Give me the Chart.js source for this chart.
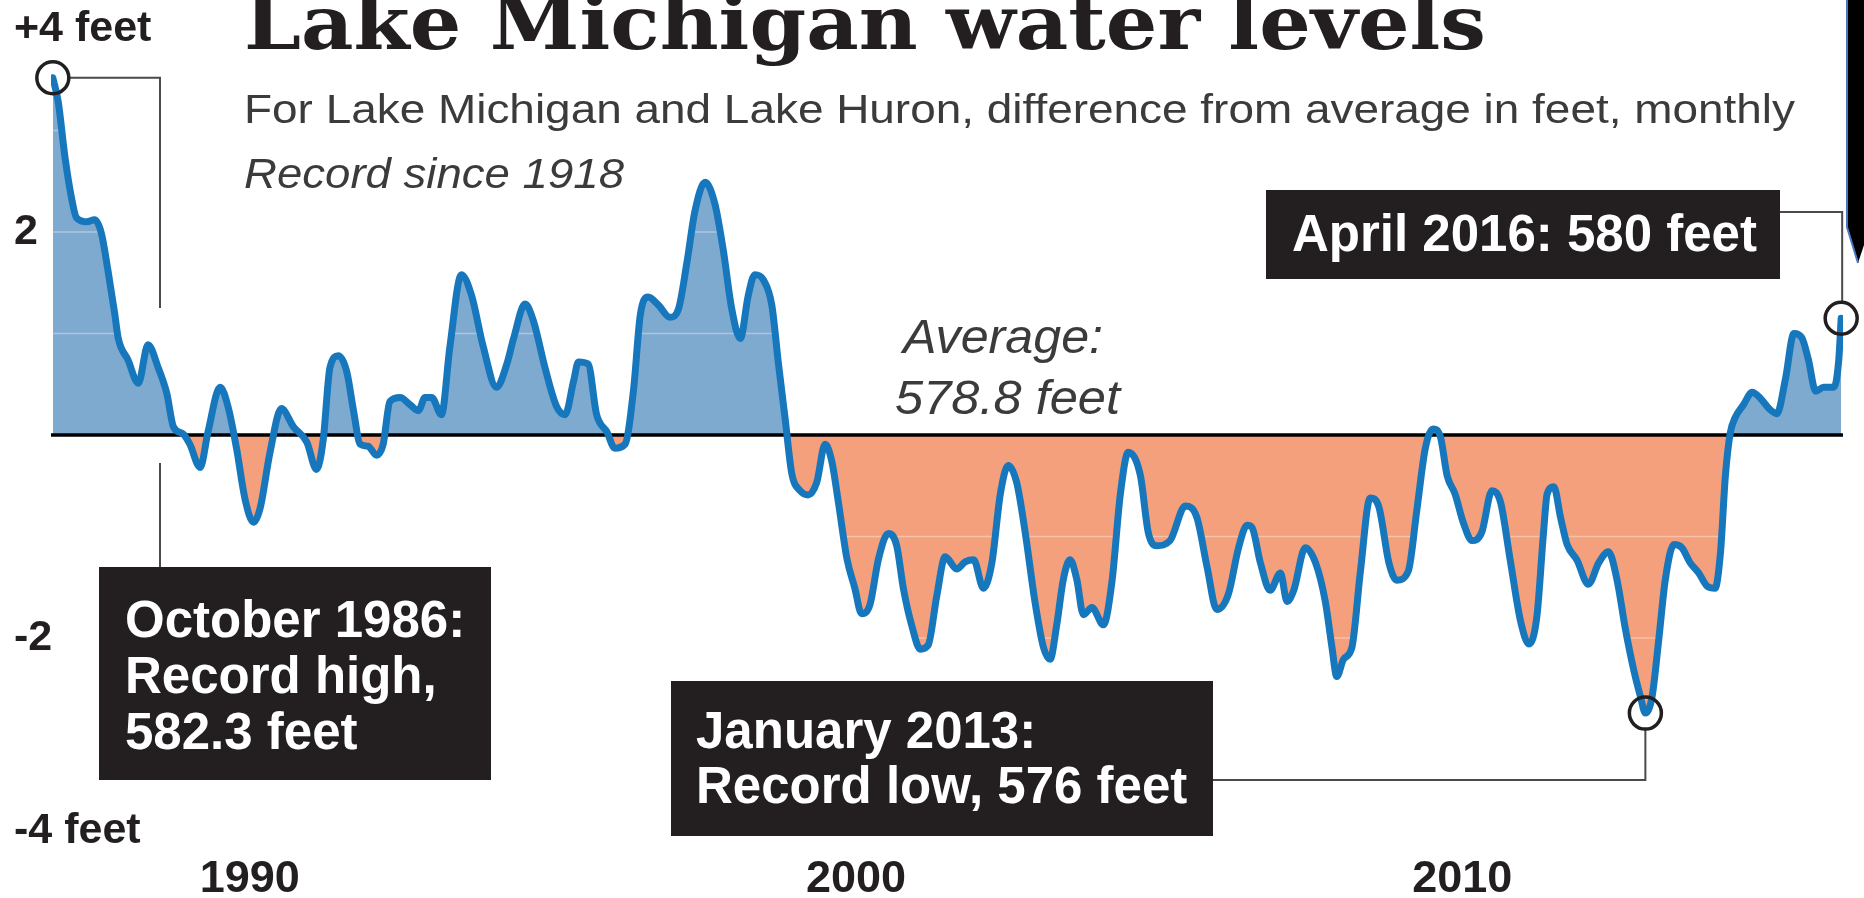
<!DOCTYPE html>
<html>
<head>
<meta charset="utf-8">
<title>Lake Michigan water levels</title>
<script src="https://cdn.jsdelivr.net/npm/chart.js@4.4.1/dist/chart.umd.min.js"></script>
<style>
  html, body { margin: 0; padding: 0; background: #fff; }
  #wrap { width: 1864px; height: 898px; position: relative; }
</style>
</head>
<body>
<div id="wrap"><canvas id="levelsChart" width="1864" height="898"></canvas></div>
<script>
// Lake Michigan-Huron level, difference from the 578.8 ft average, in feet
const dates = [
  1986.75, 1986.84, 1986.95, 1987.06, 1987.14, 1987.31, 1987.44, 1987.55, 1987.66, 1987.77,
  1987.83, 1987.99, 1988.16, 1988.32, 1988.49, 1988.63, 1988.74, 1988.90, 1989.01, 1989.18,
  1989.31, 1989.51, 1989.64, 1989.78, 1989.92, 1990.06, 1990.17, 1990.33, 1990.52, 1990.72,
  1990.94, 1991.10, 1991.21, 1991.32, 1991.46, 1991.60, 1991.71, 1991.82, 1991.95, 1992.09,
  1992.20, 1992.31, 1992.48, 1992.64, 1992.78, 1992.89, 1993.00, 1993.16, 1993.30, 1993.49,
  1993.66, 1993.85, 1994.07, 1994.24, 1994.35, 1994.54, 1994.68, 1994.87, 1995.06, 1995.20,
  1995.34, 1995.42, 1995.58, 1995.72, 1995.89, 1996.02, 1996.19, 1996.33, 1996.44, 1996.57,
  1996.74, 1996.93, 1997.07, 1997.21, 1997.34, 1997.51, 1997.67, 1997.81, 1997.95, 1998.09,
  1998.22, 1998.33, 1998.47, 1998.61, 1998.72, 1998.83, 1998.94, 1999.08, 1999.21, 1999.35,
  1999.49, 1999.60, 1999.71, 1999.85, 1999.98, 2000.09, 2000.23, 2000.37, 2000.53, 2000.67,
  2000.78, 2000.92, 2001.06, 2001.19, 2001.33, 2001.47, 2001.66, 2001.80, 2001.94, 2002.10,
  2002.24, 2002.38, 2002.51, 2002.65, 2002.79, 2002.95, 2003.09, 2003.20, 2003.31, 2003.42,
  2003.53, 2003.64, 2003.75, 2003.89, 2004.08, 2004.22, 2004.36, 2004.49, 2004.69, 2004.82,
  2004.96, 2005.18, 2005.43, 2005.62, 2005.79, 2005.95, 2006.14, 2006.31, 2006.45, 2006.53,
  2006.67, 2006.83, 2007.00, 2007.11, 2007.22, 2007.41, 2007.58, 2007.74, 2007.85, 2007.93,
  2008.04, 2008.18, 2008.32, 2008.48, 2008.62, 2008.79, 2008.92, 2009.11, 2009.25, 2009.39,
  2009.52, 2009.64, 2009.75, 2009.88, 2010.02, 2010.16, 2010.32, 2010.49, 2010.63, 2010.79,
  2010.96, 2011.10, 2011.23, 2011.34, 2011.40, 2011.51, 2011.62, 2011.73, 2011.89, 2012.08,
  2012.25, 2012.41, 2012.55, 2012.69, 2012.83, 2012.94, 2013.02, 2013.13, 2013.24, 2013.35,
  2013.49, 2013.62, 2013.76, 2013.90, 2014.04, 2014.17, 2014.26, 2014.34, 2014.42, 2014.50,
  2014.64, 2014.78, 2014.92, 2015.06, 2015.19, 2015.33, 2015.47, 2015.60, 2015.71, 2015.83,
  2015.96, 2016.13, 2016.21, 2016.25
];
const levels = [
  3.52, 3.28, 2.74, 2.33, 2.14, 2.10, 2.12, 1.99, 1.62, 1.20,
  0.95, 0.74, 0.51, 0.89, 0.66, 0.41, 0.08, 0.01, -0.09, -0.32,
  0.03, 0.47, 0.28, -0.13, -0.63, -0.86, -0.72, -0.18, 0.26, 0.08,
  -0.07, -0.34, -0.05, 0.66, 0.78, 0.62, 0.24, -0.09, -0.11, -0.20,
  -0.09, 0.33, 0.37, 0.30, 0.24, 0.37, 0.37, 0.20, 0.87, 1.58,
  1.37, 0.87, 0.47, 0.70, 0.95, 1.29, 1.12, 0.66, 0.28, 0.20,
  0.53, 0.72, 0.70, 0.20, 0.03, -0.13, -0.09, 0.45, 1.18, 1.36,
  1.28, 1.16, 1.24, 1.70, 2.20, 2.49, 2.28, 1.82, 1.24, 0.95,
  1.37, 1.58, 1.53, 1.28, 0.70, 0.16, -0.38, -0.55, -0.59, -0.47,
  -0.09, -0.26, -0.67, -1.22, -1.51, -1.76, -1.67, -1.22, -0.97, -1.09,
  -1.51, -1.88, -2.11, -2.07, -1.59, -1.20, -1.32, -1.25, -1.23, -1.51,
  -1.26, -0.58, -0.30, -0.47, -0.96, -1.64, -2.09, -2.21, -1.87, -1.42,
  -1.23, -1.42, -1.77, -1.70, -1.87, -1.45, -0.58, -0.17, -0.40, -0.96,
  -1.09, -1.04, -0.70, -0.81, -1.30, -1.72, -1.57, -1.11, -0.89, -0.91,
  -1.26, -1.53, -1.36, -1.64, -1.53, -1.11, -1.26, -1.64, -2.09, -2.38,
  -2.21, -2.09, -1.34, -0.62, -0.70, -1.26, -1.43, -1.34, -0.74, -0.13,
  0.06, -0.02, -0.40, -0.58, -0.87, -1.04, -0.96, -0.55, -0.66, -1.23,
  -1.83, -2.06, -1.79, -0.96, -0.58, -0.51, -0.81, -1.08, -1.23, -1.47,
  -1.26, -1.15, -1.42, -1.91, -2.32, -2.58, -2.74, -2.58, -2.02, -1.42,
  -1.08, -1.11, -1.26, -1.36, -1.49, -1.51, -1.15, -0.40, 0.02, 0.17,
  0.30, 0.42, 0.36, 0.26, 0.21, 0.55, 1.00, 0.96, 0.74, 0.43,
  0.47, 0.47, 0.74, 1.15
];

const yearTicks = [1990, 2000, 2010];
const feetTicks = [4, 2, -2, -4];
const feetLabels = ['+4 feet', '2', '-2', '-4 feet'];
const gridFeet = [3, 2, 1, -1, -2, -3];

const title = 'Lake Michigan water levels';
const subtitle = 'For Lake Michigan and Lake Huron, difference from average in feet, monthly';
const note = 'Record since 1918';
const averageLines = ['Average:', '578.8 feet'];
const highLines = ['October 1986:', 'Record high,', '582.3 feet'];
const lowLines = ['January 2013:', 'Record low, 576 feet'];
const lastLines = ['April 2016: 580 feet'];

const colors = {
  line: '#1677bd',
  above: '#7faad0',
  below: '#f5a07c',
  ink: '#231f20',
  grey: '#3b3b3b',
  leader: '#4a4a4a'
};
const sans = '"Liberation Sans", Arial, Helvetica, sans-serif';

// text stretched to a given width
function fitText(ctx, text, x, y, width, font) {
  ctx.font = font;
  const w = ctx.measureText(text).width;
  ctx.save();
  ctx.translate(x, y);
  ctx.scale(width / w, 1);
  ctx.fillText(text, 0, 0);
  ctx.restore();
}

function drawBox(ctx, x, y, w, h, lines, tx, baselines) {
  ctx.fillStyle = colors.ink;
  ctx.fillRect(x, y, w, h);
  ctx.fillStyle = '#fff';
  ctx.font = `bold 51px ${sans}`;
  lines.forEach((t, i) => ctx.fillText(t, tx, baselines[i]));
}

// faint white gridlines and the black average line, between fill and line
const backdrop = {
  id: 'backdrop',
  beforeDatasetsDraw(chart) {
    const {ctx, chartArea: a, scales: {y}} = chart;
    ctx.save();
    ctx.strokeStyle = 'rgba(255,255,255,0.35)';
    ctx.lineWidth = 1.5;
    gridFeet.forEach(v => {
      const py = y.getPixelForValue(v);
      ctx.beginPath();
      ctx.moveTo(a.left, py);
      ctx.lineTo(a.right, py);
      ctx.stroke();
    });
    const z = y.getPixelForValue(0);
    ctx.strokeStyle = '#000';
    ctx.lineWidth = 3.5;
    ctx.beginPath();
    ctx.moveTo(a.left, z);
    ctx.lineTo(a.right, z);
    ctx.stroke();
    ctx.restore();
  }
};

// axis labels placed from the scales (they overhang the plot, as in the print graphic)
const axisLabels = {
  id: 'axisLabels',
  afterDraw(chart) {
    const {ctx, scales: {x, y}} = chart;
    ctx.save();
    ctx.fillStyle = colors.ink;
    ctx.textBaseline = 'alphabetic';
    ctx.font = `bold 43px ${sans}`;
    ctx.textAlign = 'left';
    feetTicks.forEach((v, i) => {
      // the bottom label sits a little higher, clear of the year labels
      ctx.fillText(feetLabels[i], 14, Math.min(y.getPixelForValue(v) + 12, 843));
    });
    ctx.font = `bold 45px ${sans}`;
    ctx.textAlign = 'center';
    yearTicks.forEach(v => {
      ctx.fillText(String(v), x.getPixelForValue(v), 892);
    });
    ctx.restore();
  }
};

const annotations = {
  id: 'annotations',
  afterDraw(chart) {
    const {ctx, scales: {x, y}} = chart;
    const pt = i => ({x: x.getPixelForValue(dates[i]), y: y.getPixelForValue(levels[i])});
    const iHigh = levels.indexOf(Math.max(...levels));
    const iLow = levels.indexOf(Math.min(...levels));
    const iLast = levels.length - 1;
    const r = 16;

    ctx.save();
    ctx.textAlign = 'left';
    ctx.textBaseline = 'alphabetic';

    // headline block
    ctx.fillStyle = colors.ink;
    fitText(ctx, title, 244, 49, 1242, 'bold 75px "DejaVu Serif", serif');
    ctx.fillStyle = colors.grey;
    fitText(ctx, subtitle, 244, 123, 1551, `41px ${sans}`);
    fitText(ctx, note, 244, 188, 380, `italic 43px ${sans}`);
    fitText(ctx, averageLines[0], 903, 353, 200, `italic 48px ${sans}`);
    fitText(ctx, averageLines[1], 895, 414, 225, `italic 48px ${sans}`);

    // leader lines
    ctx.strokeStyle = colors.leader;
    ctx.lineWidth = 2;
    const h = pt(iHigh), l = pt(iLow), e = pt(iLast);
    ctx.beginPath();
    ctx.moveTo(h.x + r, h.y);
    ctx.lineTo(160, h.y);
    ctx.lineTo(160, 308);
    ctx.moveTo(160, 463);
    ctx.lineTo(160, 567);
    ctx.moveTo(l.x, l.y + r);
    ctx.lineTo(l.x, 780);
    ctx.lineTo(1213, 780);
    ctx.moveTo(e.x + 1, e.y - r);
    ctx.lineTo(e.x + 1, 212);
    ctx.lineTo(1780, 212);
    ctx.stroke();

    // circles on the record points
    ctx.strokeStyle = colors.ink;
    ctx.lineWidth = 3.5;
    [h, l, e].forEach(p => {
      ctx.beginPath();
      ctx.arc(p.x, p.y, r, 0, Math.PI * 2);
      ctx.stroke();
    });

    // black label boxes
    drawBox(ctx, 99, 567, 392, 213, highLines, 125, [637, 693, 749]);
    drawBox(ctx, 671, 681, 542, 155, lowLines, 696, [748, 803]);
    drawBox(ctx, 1266, 190, 514, 89, lastLines, 1292, [251]);

    // cropped page element on the right edge
    ctx.fillStyle = '#000';
    ctx.beginPath();
    ctx.moveTo(1847, 0);
    ctx.lineTo(1847, 227);
    ctx.lineTo(1858, 263);
    ctx.lineTo(1864, 245);
    ctx.lineTo(1864, 0);
    ctx.closePath();
    ctx.fill();
    ctx.strokeStyle = '#4a78c0';
    ctx.lineWidth = 2;
    ctx.beginPath();
    ctx.moveTo(1847, 0);
    ctx.lineTo(1847, 227);
    ctx.lineTo(1858, 263);
    ctx.stroke();
    ctx.restore();
  }
};

document.addEventListener('DOMContentLoaded', function() {
  const ctx = document.getElementById('levelsChart').getContext('2d');

  new Chart(ctx, {
    type: 'line',
    data: {
      datasets: [{
        data: dates.map((d, i) => ({x: d, y: levels[i]})),
        borderColor: colors.line,
        borderWidth: 7,
        borderJoinStyle: 'round',
        borderCapStyle: 'round',
        cubicInterpolationMode: 'monotone',
        pointRadius: 0,
        fill: {target: 'origin', above: colors.above, below: colors.below}
      }]
    },
    options: {
      responsive: false,
      animation: false,
      devicePixelRatio: 1,
      layout: {padding: {top: 29, left: 14, right: 21, bottom: 57}},
      plugins: {
        legend: {display: false},
        tooltip: {enabled: false},
        filler: {drawTime: 'beforeDatasetsDraw'}
      },
      scales: {
        x: {
          type: 'linear',
          min: 1986.72,
          max: 2016.28,
          grid: {display: false, drawTicks: false},
          border: {display: false},
          ticks: {display: false}
        },
        y: {
          min: -4,
          max: 4,
          grid: {display: false, drawTicks: false},
          border: {display: false},
          afterFit: s => { s.width = 37; },
          ticks: {display: false}
        }
      }
    },
    plugins: [backdrop, axisLabels, annotations]
  });
});
</script>
</body>
</html>
